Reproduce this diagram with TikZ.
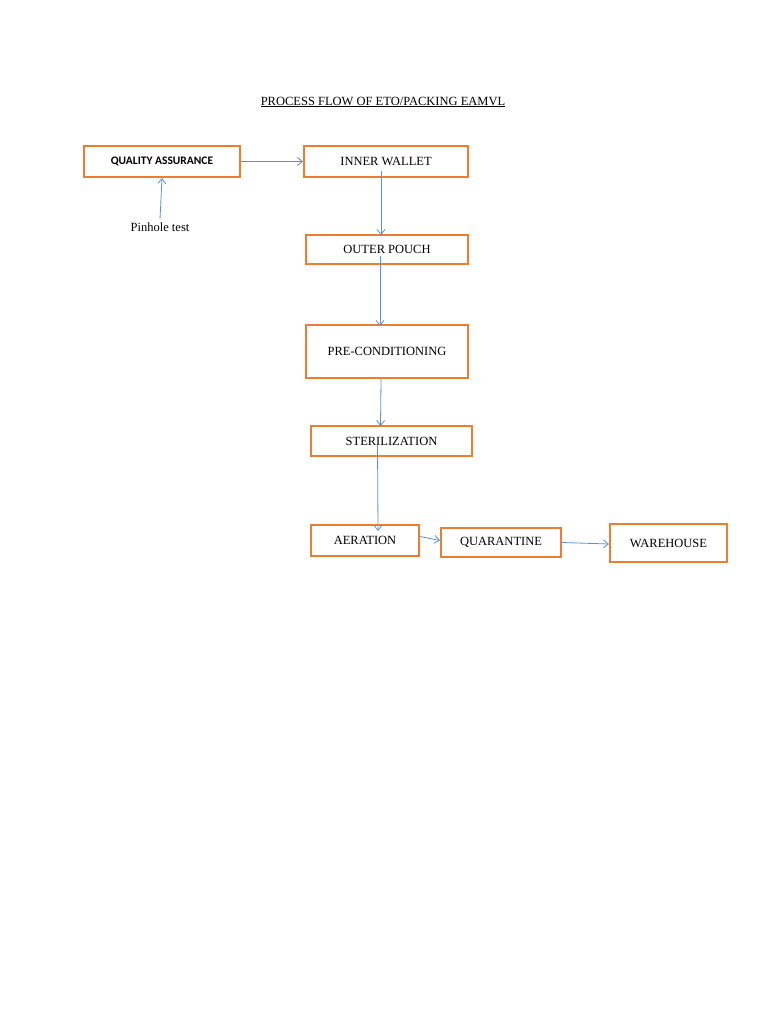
\documentclass[tikz,border=0pt]{standalone}
\usepackage{fontspec}
\setmainfont{Liberation Serif}
\newfontfamily\carlitofont{Carlito}
\usetikzlibrary{arrows.meta}
\definecolor{bo}{RGB}{237,125,49}
\definecolor{ab}{RGB}{91,145,205}
\begin{document}
\begin{tikzpicture}[x=1pt,y=-1pt,
 box/.style={draw=bo,line width=2pt,inner sep=0pt,font=\fontsize{12.5}{14}\selectfont},
 arr/.style={draw=ab,line width=0.8pt,-{Straight Barb[length=5pt,width=8pt]}}]
\useasboundingbox (0,0) rectangle (768,1024);
\node[font=\fontsize{12.5}{14}\selectfont] (t) at (383,102) {\underline{PROCESS FLOW OF ETO/PACKING EAMVL}};
\node[box,minimum width=156pt,minimum height=31pt,font=\carlitofont\bfseries\fontsize{11.5}{13}\selectfont] (qa) at (162,161.5) {QUALITY ASSURANCE};
\node[box,minimum width=164pt,minimum height=31pt] (iw) at (386,161.5) {INNER WALLET};
\node[box,minimum width=162pt,minimum height=29pt] (op) at (387,249.5) {OUTER POUCH};
\node[box,minimum width=162pt,minimum height=53pt] (pc) at (387,351.5) {PRE-CONDITIONING};
\node[box,minimum width=161pt,minimum height=30pt] (st) at (391.5,441) {STERILIZATION};
\node[box,minimum width=108pt,minimum height=31pt] (ae) at (365,540.5) {AERATION};
\node[box,minimum width=120pt,minimum height=29pt] (qu) at (501,542.5) {QUARANTINE};
\node[box,minimum width=117pt,minimum height=38pt] (wh) at (668.5,543) {WAREHOUSE};
\node[font=\fontsize{12.5}{14}\selectfont] (ph) at (160,227) {Pinhole test};
\draw[arr] (qa.east) -- (iw.west);
\draw[arr] (ph.north) -- (qa.south);
\draw[arr] ([xshift=-5pt,yshift=7pt]iw.south) -- ([xshift=-6pt,yshift=-1pt]op.north);
\draw[arr] ([xshift=-7pt,yshift=9pt]op.south) -- ([xshift=-7pt,yshift=-2pt]pc.north);
\draw[arr] ([xshift=-6pt]pc.south) -- ([xshift=-11pt,yshift=-1pt]st.north);
\draw[arr] ([xshift=-14pt,yshift=12pt]st.south) -- ([xshift=13pt,yshift=-7pt]ae.north);
\draw[arr] ([yshift=4pt]ae.east) -- ([yshift=2pt]qu.west);
\draw[arr] (qu.east) -- ([yshift=-1pt]wh.west);
\end{tikzpicture}
\end{document}
